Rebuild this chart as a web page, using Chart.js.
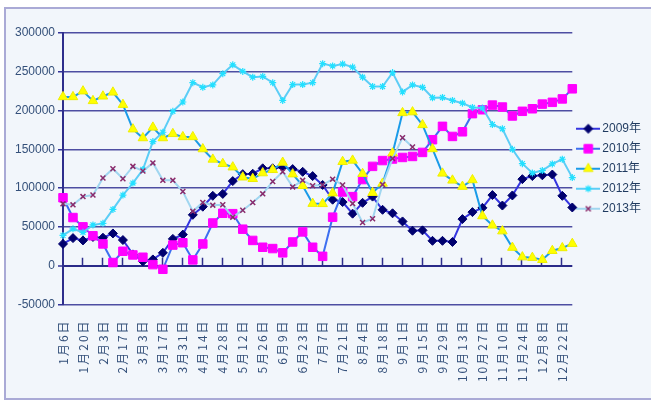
<!DOCTYPE html>
<html><head><meta charset="utf-8">
<script src="https://cdn.jsdelivr.net/npm/chart.js@4.4.1/dist/chart.umd.min.js"></script>
<style>
html,body{margin:0;padding:0;background:#fff;width:651px;height:402px;overflow:hidden}
#frame{position:absolute;left:4px;top:7px;width:660px;height:389px;background:#f2f6fb;border-left:2px solid #aaaad6;border-top:2px solid #aaaad6;border-bottom:2px solid #aaaad6}
canvas{position:absolute;left:0;top:0}
</style></head><body>
<div id="frame"></div>
<canvas id="c" width="651" height="402"></canvas>
<script>
const weeks = ['1月6日','1月13日','1月20日','1月27日','2月3日','2月10日','2月17日','2月24日','3月3日','3月10日','3月17日','3月24日','3月31日','4月7日','4月14日','4月21日','4月28日','5月5日','5月12日','5月19日','5月26日','6月2日','6月9日','6月16日','6月23日','6月30日','7月7日','7月14日','7月21日','7月28日','8月4日','8月11日','8月18日','8月25日','9月1日','9月8日','9月15日','9月22日','9月29日','10月6日','10月13日','10月20日','10月27日','11月3日','11月10日','11月17日','11月24日','12月1日','12月8日','12月15日','12月22日','12月29日'];

const seriesNames = ['2009年','2010年','2011年','2012年','2013年'];

const s2009 = [28000,35500,32500,37000,36000,41500,33000,14500,5500,8000,16500,34500,40000,65500,76000,90000,92500,109000,118000,118500,125500,125500,127000,124500,121000,115500,104000,85000,82000,67000,81000,89000,72000,67500,57000,45000,45500,32000,32000,30500,60000,69000,74500,91000,77500,90500,111500,115500,116500,117500,90000,75000];

const s2010 = [87500,62000,50000,38500,28000,4000,18500,13800,10800,1300,-4700,26500,29500,7400,28000,55000,67500,67000,47000,32500,23700,22000,16500,30500,43500,23700,12000,62500,95000,89000,111000,128000,135500,137500,139500,140800,146000,162400,179600,166600,172600,196000,201000,207000,204500,193000,199000,202300,208300,210600,215000,228000];

const s2011 = [217600,217600,225000,212500,218400,223500,207600,176000,164600,178300,164600,170000,166000,166000,150400,137000,131400,127000,114000,112000,119400,123600,133000,118000,103000,80000,79700,93500,134000,135700,118500,94000,106000,145000,197000,198000,181500,150500,119000,110000,102000,110500,64000,52000,44500,23300,11000,10300,7600,19200,22800,28300];

const s2012 = [39000,47500,43000,52500,54500,72500,91000,106500,124000,160000,172000,199000,211000,236000,230000,233000,247500,259000,250500,243000,244000,236000,213000,233500,233500,236000,260500,257500,260000,256000,243000,231000,231000,249000,224000,233000,230000,216500,216800,213000,209500,204000,203300,182000,176500,150000,131500,119500,122700,131200,137200,113500];

const s2013 = [79700,78400,89000,91000,113000,125000,112000,128000,122000,132500,110000,110000,95600,70000,81500,78000,78500,62500,71500,81400,92600,108500,121000,101500,110000,103000,104000,111500,104000,80000,55600,60500,104500,138000,165000,153000,null,null,null,null,null,null,null,null,null,null,null,null,null,null,null,null];

const yMin = -50000, yMax = 300000, yStep = 50000;

const textColor = '#34507a';

const datasets = [
  {label:seriesNames[0], data:s2009, borderColor:'#3535e0', borderWidth:2, pointStyle:'rectRot', pointRadius:4.5, pointBackgroundColor:'#00006e', pointBorderColor:'#00006e', pointBorderWidth:1, order:5},
  {label:seriesNames[1], data:s2010, borderColor:'#3d6ff0', borderWidth:2, pointStyle:'rect', pointRadius:6, pointBackgroundColor:'#ff00ff', pointBorderColor:'#ff00ff', pointBorderWidth:1, order:4},
  {label:seriesNames[2], data:s2011, borderColor:'#1a9be8', borderWidth:2, pointStyle:'triangle', pointRadius:5.5, pointBackgroundColor:'#ffff00', pointBorderColor:'#eeee00', pointBorderWidth:1, order:3},
  {label:seriesNames[3], data:s2012, borderColor:'#5ccdf6', borderWidth:2, pointStyle:'star', pointRadius:3.5, pointBackgroundColor:'#22e0ff', pointBorderColor:'#22e0ff', pointBorderWidth:1.2, order:2},
  {label:seriesNames[4], data:s2013, borderColor:'#a0d6f0', borderWidth:2, pointStyle:'crossRot', pointRadius:3.5, pointBackgroundColor:'#8b2a6b', pointBorderColor:'#8b2a6b', pointBorderWidth:1.5, order:1}
];
datasets.forEach(d => { d.tension = 0; d.fill = false; d.spanGaps = false; });

function makeIcon(ds){
  const c = document.createElement('canvas');
  c.width = 24; c.height = 14;
  const g = c.getContext('2d');
  g.strokeStyle = ds.borderColor; g.lineWidth = 2;
  g.beginPath(); g.moveTo(0,7); g.lineTo(24,7); g.stroke();
  g.fillStyle = ds.pointBackgroundColor; g.strokeStyle = ds.pointBorderColor; g.lineWidth = ds.pointBorderWidth;
  if (Chart.helpers && Chart.helpers.drawPoint) {
    Chart.helpers.drawPoint(g, {pointStyle: ds.pointStyle, radius: ds.pointRadius, rotation: 0, borderWidth: ds.pointBorderWidth}, 12, 7);
  } else {
    g.beginPath(); g.arc(12,7,ds.pointRadius,0,Math.PI*2); g.fill();
  }
  return c;
}
const icons = datasets.map(makeIcon);

const zeroTicks = {
  id:'zeroTicks',
  beforeDatasetsDraw(chart){
    const {ctx, scales:{x, y}} = chart;
    const y0 = y.getPixelForValue(0);
    ctx.save();
    ctx.strokeStyle = '#2e2e8c'; ctx.lineWidth = 1.5;
    ctx.beginPath();
    for (let i = 2; i < weeks.length; i += 2) {
      const px = Math.round(x.getPixelForValue(i)) - 0.5;
      ctx.moveTo(px, y0); ctx.lineTo(px, y0 - 8);
    }
    ctx.stroke();
    ctx.restore();
  }
};

// x tick labels are drawn in a later layer (ticks.z = 1); widen their letter spacing only
const xLabelSpacing = {
  id:'xLabelSpacing',
  afterDatasetsDraw(chart){ if ('letterSpacing' in chart.ctx) chart.ctx.letterSpacing = '2px'; },
  afterDraw(chart){ if ('letterSpacing' in chart.ctx) chart.ctx.letterSpacing = '0px'; }
};

new Chart(document.getElementById('c'), {
  type:'line',
  data:{labels:weeks, datasets},
  plugins:[zeroTicks, xLabelSpacing],
  options:{
    responsive:false, animation:false, devicePixelRatio:1,
    layout:{padding:{top:33, bottom:0, left:0, right:0}},
    plugins:{
      tooltip:{enabled:false},
      legend:{
        position:'right', align:'center', fullSize:false,
        labels:{
          usePointStyle:true, pointStyleWidth:16, boxHeight:12, padding:8,
          color:'#1f3a5f', font:{family:"'Liberation Sans','Noto Sans CJK SC',sans-serif", size:12},
          generateLabels: chart => chart.data.datasets.map((ds,i) => ({
            text: ds.label, pointStyle: icons[i], fillStyle:'rgba(0,0,0,0)', strokeStyle:'rgba(0,0,0,0)',
            lineWidth:0, hidden:false, datasetIndex:i, fontColor:'#1f3a5f'
          }))
        }
      }
    },
    scales:{
      x:{
        type:'category',
        grid:{display:false, drawTicks:false},
        border:{display:false},
        ticks:{z:1, autoSkip:false, minRotation:90, maxRotation:90, padding:15, color:textColor,
          font:{family:"'Noto Sans CJK SC',sans-serif", size:12},
          callback:(v,i) => (i % 2 === 0 ? weeks[i] : '')},
        afterFit: s => { s.height = 97.6; }
      },
      y:{
        min:yMin, max:yMax,
        ticks:{stepSize:yStep, color:textColor, padding:3,
          font:{family:"'Liberation Sans',sans-serif", size:12},
          callback: v => String(v)},
        grid:{
          color: c => (c.tick && c.tick.value === 0 ? '#2a2a88' : '#4e4ea2'),
          lineWidth: c => (c.tick && c.tick.value === 0 ? 2 : 1.5),
          tickLength:5, tickColor:'#333399', tickWidth:1.5
        },
        border:{color:'#2e2e8c', width:2},
        afterFit: s => { s.width = 63; }
      }
    }
  }
});
</script>
</body></html>
